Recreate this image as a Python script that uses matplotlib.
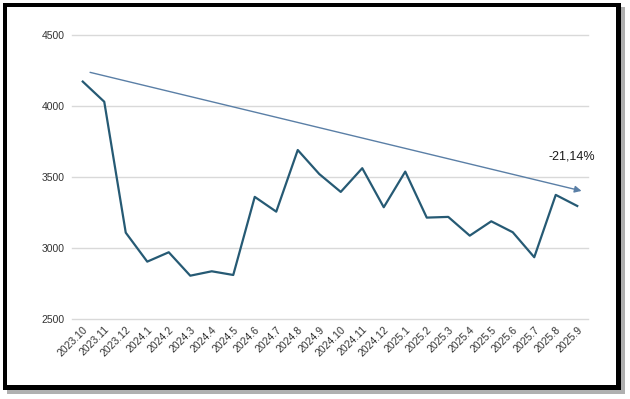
import matplotlib.pyplot as plt
from matplotlib.patches import Rectangle

plt.rcParams['font.family'] = ['Liberation Sans', 'DejaVu Sans']

# monthly values
months = ['2023.10', '2023.11', '2023.12', '2024.1', '2024.2', '2024.3', '2024.4',
          '2024.5', '2024.6', '2024.7', '2024.8', '2024.9', '2024.10', '2024.11',
          '2024.12', '2025.1', '2025.2', '2025.3', '2025.4', '2025.5', '2025.6',
          '2025.7', '2025.8', '2025.9']
values = [4172, 4030, 3108, 2904, 2970, 2805, 2836, 2810, 3360, 3256, 3690, 3521,
          3395, 3562, 3287, 3538, 3214, 3219, 3087, 3188, 3111, 2935, 3374, 3296]

# trend arrow (x in category index, y in value)
trend_x = [0.34, 23.2]
trend_y = [4237, 3402]
trend_label = '-21,14%'

yticks = [2500, 3000, 3500, 4000, 4500]

fig = plt.figure(figsize=(6.3, 3.99), dpi=100)
W, H = 630, 399

# frame with shadow
fig.patches.append(Rectangle((7 / W, 1 - 394 / H), 618 / W, 387 / H,
                             transform=fig.transFigure, facecolor='#b0b0b0',
                             edgecolor='none', zorder=0))
fig.patches.append(Rectangle((3 / W, 1 - 390 / H), 618 / W, 387 / H,
                             transform=fig.transFigure, facecolor='black',
                             edgecolor='none', zorder=1))
fig.patches.append(Rectangle((7 / W, 1 - 385 / H), 609 / W, 378 / H,
                             transform=fig.transFigure, facecolor='white',
                             edgecolor='none', zorder=2))

ax = fig.add_axes([72 / W, 1 - 319 / H, 516 / W, 284 / H])
ax.set_facecolor('none')
ax.set_zorder(3)

x = list(range(len(months)))
ax.plot(x, values, color='#265a74', lw=1.6, zorder=3)

ax.annotate('', xy=(trend_x[1], trend_y[1]), xytext=(trend_x[0], trend_y[0]),
            arrowprops=dict(arrowstyle='-|>', color='#5a7fa6', lw=1.0,
                            mutation_scale=10, shrinkA=0, shrinkB=0), zorder=4)
ax.text(22.75, 3645, trend_label, fontsize=9, color='#1a1a1a',
        ha='center', va='center')

ax.set_xlim(-0.5, len(months) - 0.5)
ax.set_ylim(2500, 4500)
ax.set_yticks(yticks)
ax.set_yticklabels([str(v) for v in yticks])
ax.set_xticks(x)
ax.set_xticklabels(months, rotation=45, ha='right', rotation_mode='anchor')
ax.grid(axis='y', color='#d9d9d9', lw=1.0, clip_on=False)
ax.set_axisbelow(True)
for s in ax.spines.values():
    s.set_visible(False)
ax.tick_params(axis='both', length=0, labelsize=7.5, colors='#333333')
ax.tick_params(axis='y', pad=5)
ax.tick_params(axis='x', pad=4)

fig.savefig('out.png', dpi=100)
